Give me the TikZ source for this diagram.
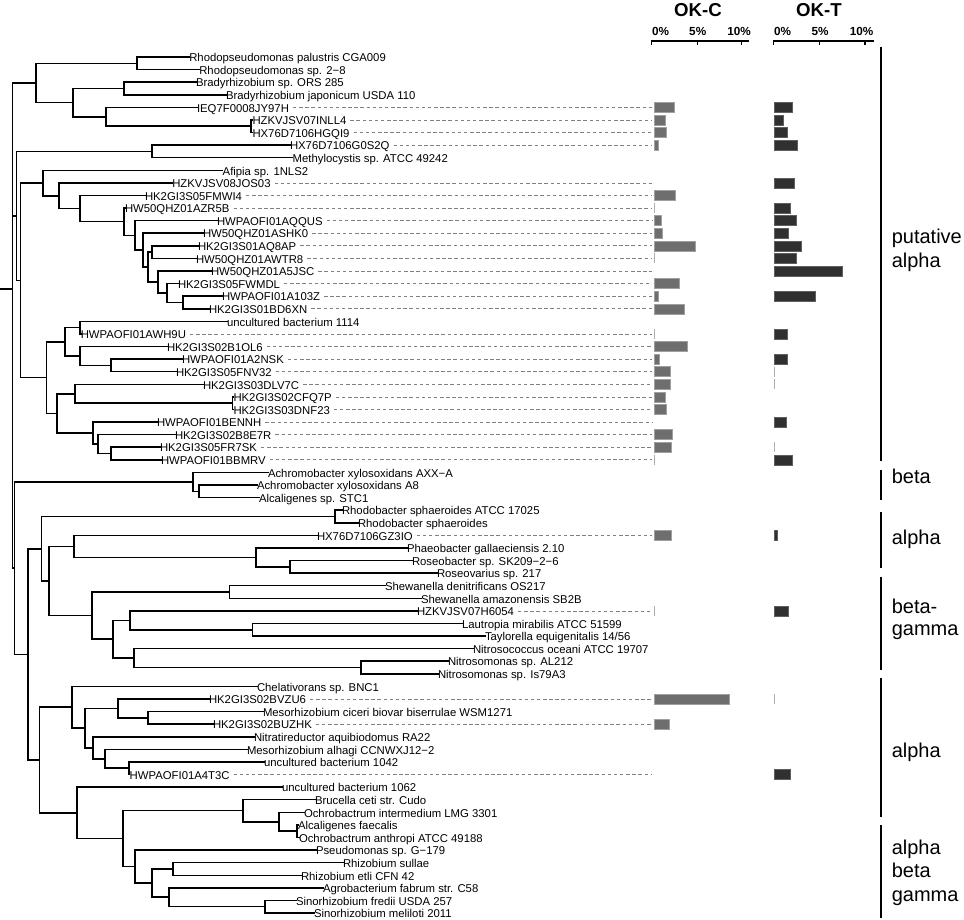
\documentclass[tikz,border=0pt]{standalone}
\usepackage{fontspec}
\setmainfont{Liberation Sans}
\tikzset{
 br/.style={line width=1.15pt, black, line cap=rect},
 leaf/.style={anchor=west, inner sep=0pt, outer sep=0pt, text height=0.716em, text depth=0pt, font=\fontsize{8.5}{10}\selectfont},
 dl/.style={gray, line width=0.5pt, dash pattern=on 2.6pt off 2pt},
 cbar/.style={fill={rgb,255:red,110;green,110;blue,110}, draw={rgb,255:red,160;green,160;blue,160}, line width=0.4pt},
 tbar/.style={fill={rgb,255:red,48;green,48;blue,48}, draw={rgb,255:red,95;green,95;blue,95}, line width=0.4pt},
 zline/.style={draw={rgb,255:red,175;green,175;blue,175}, line width=0.6pt},
 grp/.style={anchor=base west, inner sep=0pt, font=\fontsize{15}{18}\selectfont},
 bracket/.style={line width=1.1pt},
 hdr/.style={anchor=base, inner sep=0pt, font=\bfseries\fontsize{14}{16}\selectfont},
 axlab/.style={anchor=base, inner sep=0pt, font=\bfseries\fontsize{8.8}{10}\selectfont},
 axline/.style={line width=0.9pt},
}
\newcommand\brn[2]{\draw[br] (#1) |- (#2);}
\newcommand\barC[2]{\path[cbar] (654,{#1-5}) rectangle ({654+#2},{#1+5});}
\newcommand\barT[2]{\path[tbar] (774,{#1-5}) rectangle ({774+#2},{#1+5});}
\newcommand\zerC[1]{\draw[zline] (654,{#1-5}) -- (654,{#1+5});}
\newcommand\zerT[1]{\draw[zline] (774,{#1-5}) -- (774,{#1+5});}
\begin{document}
\begin{tikzpicture}[x=0.75pt,y=-0.75pt]
\useasboundingbox (0,0) rectangle (964,920);
% ---------- tips ----------
\coordinate (t1) at (189.3,57.0);
\coordinate (t2) at (199.3,69.6);
\coordinate (t3) at (196,82.2);
\coordinate (t4) at (226,94.8);
\coordinate (t5) at (197,107.4);
\coordinate (t6) at (252.5,119.9);
\coordinate (t7) at (252.5,132.5);
\coordinate (t8) at (290,145.1);
\coordinate (t9) at (292.7,157.7);
\coordinate (t10) at (222.7,170.3);
\coordinate (t11) at (172.3,182.9);
\coordinate (t12) at (145,195.5);
\coordinate (t13) at (125,208.1);
\coordinate (t14) at (217,220.6);
\coordinate (t15) at (203,233.2);
\coordinate (t16) at (198,245.8);
\coordinate (t17) at (196,258.4);
\coordinate (t18) at (211,271.0);
\coordinate (t19) at (178,283.6);
\coordinate (t20) at (222,296.2);
\coordinate (t21) at (209,308.8);
\coordinate (t22) at (227,321.3);
\coordinate (t23) at (80.8,333.9);
\coordinate (t24) at (167,346.5);
\coordinate (t25) at (182,359.1);
\coordinate (t26) at (176,371.7);
\coordinate (t27) at (203,384.3);
\coordinate (t28) at (233.5,396.9);
\coordinate (t29) at (233.5,409.5);
\coordinate (t30) at (157,422.1);
\coordinate (t31) at (175,434.6);
\coordinate (t32) at (160,447.2);
\coordinate (t33) at (161,459.8);
\coordinate (t34) at (268,472.4);
\coordinate (t35) at (257,485.0);
\coordinate (t36) at (259,497.6);
\coordinate (t37) at (342,510.2);
\coordinate (t38) at (358,522.8);
\coordinate (t39) at (317,535.4);
\coordinate (t40) at (407,547.9);
\coordinate (t41) at (412,560.5);
\coordinate (t42) at (437,573.1);
\coordinate (t43) at (385,585.7);
\coordinate (t44) at (421,598.3);
\coordinate (t45) at (417,610.9);
\coordinate (t46) at (462,623.5);
\coordinate (t47) at (485,636.1);
\coordinate (t48) at (473,648.7);
\coordinate (t49) at (448,661.2);
\coordinate (t50) at (438,673.8);
\coordinate (t51) at (257,686.4);
\coordinate (t52) at (209,699.0);
\coordinate (t53) at (263,711.6);
\coordinate (t54) at (213,724.2);
\coordinate (t55) at (254,736.8);
\coordinate (t56) at (247,749.4);
\coordinate (t57) at (264,762.0);
\coordinate (t58) at (129.7,774.5);
\coordinate (t59) at (282,787.1);
\coordinate (t60) at (315,799.7);
\coordinate (t61) at (304,812.3);
\coordinate (t62) at (298,824.9);
\coordinate (t63) at (299,837.5);
\coordinate (t64) at (316,850.1);
\coordinate (t65) at (343,862.7);
\coordinate (t66) at (301,875.3);
\coordinate (t67) at (323,887.8);
\coordinate (t68) at (296,900.4);
\coordinate (t69) at (314,913.0);
% ---------- internal nodes ----------
\coordinate (r0) at (0,289.0);
\coordinate (R) at (12.7,289.0);
\coordinate (T) at (36,83.0);
\coordinate (P1) at (137,63.3);
\coordinate (P2) at (73,102.65);
\coordinate (P3) at (124,88.5);
\coordinate (P4) at (106,116.8);
\coordinate (P5) at (251,126.2);
\coordinate (V2) at (16.7,215.85);
\coordinate (M) at (152,151.4);
\coordinate (V3) at (20.7,280.3);
\coordinate (A0) at (43,183.0);
\coordinate (A1) at (59,195.75);
\coordinate (A2) at (80,208.6);
\coordinate (A3) at (124,221.7);
\coordinate (A4) at (135,235.35);
\coordinate (A5) at (143,250.1);
\coordinate (A6) at (148,267.05);
\coordinate (A7) at (152,252.1);
\coordinate (A8) at (158,282.0);
\coordinate (A9) at (167,293.05);
\coordinate (A10) at (183,302.5);
\coordinate (G2) at (46.7,377.6);
\coordinate (B0) at (65,341.8);
\coordinate (B1) at (80,327.6);
\coordinate (B2) at (80,355.95);
\coordinate (B3) at (111,365.4);
\coordinate (C0) at (57,413.4);
\coordinate (C1) at (75,393.75);
\coordinate (C2) at (232.3,403.2);
\coordinate (D1) at (93,433.1);
\coordinate (D2) at (98,444.05);
\coordinate (D3) at (111,453.5);
\coordinate (Nd) at (14.5,568.1);
\coordinate (Ac) at (193,481.85);
\coordinate (Ac2) at (199,491.3);
\coordinate (Na) at (28,654.4);
\coordinate (Nb) at (41.7,548.75);
\coordinate (Rb) at (335,516.5);
\coordinate (Q0) at (49,581.0);
\coordinate (Hx) at (74,546.4);
\coordinate (Ro1) at (256,557.35);
\coordinate (Ro2) at (290,566.8);
\coordinate (Q1) at (92,615.6);
\coordinate (Sh) at (229.3,592.0);
\coordinate (Q2) at (113,639.2);
\coordinate (Hz) at (130,620.35);
\coordinate (La) at (252.3,629.8);
\coordinate (Ns1) at (134,658.1);
\coordinate (Ns2) at (361,667.5);
\coordinate (Nc) at (39.3,760.1);
\coordinate (Ch) at (72,707.25);
\coordinate (Mz) at (85,728.1);
\coordinate (Ms1) at (118,708.45);
\coordinate (Ms2) at (148,717.9);
\coordinate (Nt) at (93,747.8);
\coordinate (Un1) at (105,758.8);
\coordinate (Un2) at (129,768.25);
\coordinate (U62) at (77,812.9);
\coordinate (K1) at (123,838.65);
\coordinate (Bc) at (243,810.7);
\coordinate (Oc2) at (279,821.75);
\coordinate (Oc3) at (297,831.2);
\coordinate (Ps) at (135,866.6);
\coordinate (K2) at (152,883.1);
\coordinate (Rz) at (173,869.0);
\coordinate (Ag) at (169,897.25);
\coordinate (Sn2) at (265,906.7);
% ---------- branches ----------
\draw[br] (r0) -- (R);
\brn{R}{T}\brn{R}{V2}\brn{R}{Nd}
\brn{T}{P1}\brn{T}{P2}
\brn{P1}{t1}\brn{P1}{t2}
\brn{P2}{P3}\brn{P2}{P4}
\brn{P3}{t3}\brn{P3}{t4}
\brn{P4}{t5}\brn{P4}{P5}
\brn{P5}{t6}\brn{P5}{t7}
\brn{V2}{M}\brn{V2}{V3}
\brn{M}{t8}\brn{M}{t9}
\brn{V3}{A0}\brn{V3}{G2}
\brn{A0}{t10}\brn{A0}{A1}
\brn{A1}{t11}\brn{A1}{A2}
\brn{A2}{t12}\brn{A2}{A3}
\brn{A3}{t13}\brn{A3}{A4}
\brn{A4}{t14}\brn{A4}{A5}
\brn{A5}{t15}\brn{A5}{A6}
\brn{A6}{A7}\brn{A6}{A8}
\brn{A7}{t16}\brn{A7}{t17}
\brn{A8}{t18}\brn{A8}{A9}
\brn{A9}{t19}\brn{A9}{A10}
\brn{A10}{t20}\brn{A10}{t21}
\brn{G2}{B0}\brn{G2}{C0}
\brn{B0}{B1}\brn{B0}{B2}
\brn{B1}{t22}\brn{B1}{t23}
\brn{B2}{t24}\brn{B2}{B3}
\brn{B3}{t25}\brn{B3}{t26}
\brn{C0}{C1}\brn{C0}{D1}
\brn{C1}{t27}\brn{C1}{C2}
\brn{C2}{t28}\brn{C2}{t29}
\brn{D1}{t30}\brn{D1}{D2}
\brn{D2}{t31}\brn{D2}{D3}
\brn{D3}{t32}\brn{D3}{t33}
\brn{Nd}{Ac}\brn{Nd}{Na}
\brn{Ac}{t34}\brn{Ac}{Ac2}
\brn{Ac2}{t35}\brn{Ac2}{t36}
\brn{Na}{Nb}\brn{Na}{Nc}
\brn{Nb}{Rb}\brn{Nb}{Q0}
\brn{Rb}{t37}\brn{Rb}{t38}
\brn{Q0}{Hx}\brn{Q0}{Q1}
\brn{Hx}{t39}\brn{Hx}{Ro1}
\brn{Ro1}{t40}\brn{Ro1}{Ro2}
\brn{Ro2}{t41}\brn{Ro2}{t42}
\brn{Q1}{Sh}\brn{Q1}{Q2}
\brn{Sh}{t43}\brn{Sh}{t44}
\brn{Q2}{Hz}\brn{Q2}{Ns1}
\brn{Hz}{t45}\brn{Hz}{La}
\brn{La}{t46}\brn{La}{t47}
\brn{Ns1}{t48}\brn{Ns1}{Ns2}
\brn{Ns2}{t49}\brn{Ns2}{t50}
\brn{Nc}{Ch}\brn{Nc}{U62}
\brn{Ch}{t51}\brn{Ch}{Mz}
\brn{Mz}{Ms1}\brn{Mz}{Nt}
\brn{Ms1}{t52}\brn{Ms1}{Ms2}
\brn{Ms2}{t53}\brn{Ms2}{t54}
\brn{Nt}{t55}\brn{Nt}{Un1}
\brn{Un1}{t56}\brn{Un1}{Un2}
\brn{Un2}{t57}\brn{Un2}{t58}
\brn{U62}{t59}\brn{U62}{K1}
\brn{K1}{Bc}\brn{K1}{Ps}
\brn{Bc}{t60}\brn{Bc}{Oc2}
\brn{Oc2}{t61}\brn{Oc2}{Oc3}
\brn{Oc3}{t62}\brn{Oc3}{t63}
\brn{Ps}{t64}\brn{Ps}{K2}
\brn{K2}{Rz}\brn{K2}{Ag}
\brn{Rz}{t65}\brn{Rz}{t66}
\brn{Ag}{t67}\brn{Ag}{Sn2}
\brn{Sn2}{t68}\brn{Sn2}{t69}
% ---------- labels ----------
\node[leaf] (l1) at (t1) {Rhodopseudomonas palustris CGA009};
\node[leaf] (l2) at (t2) {Rhodopseudomonas sp. 2−8};
\node[leaf] (l3) at (t3) {Bradyrhizobium sp. ORS 285};
\node[leaf] (l4) at (t4) {Bradyrhizobium japonicum USDA 110};
\node[leaf] (l5) at (t5) {IEQ7F0008JY97H};
\node[leaf] (l6) at (t6) {HZKVJSV07INLL4};
\node[leaf] (l7) at (t7) {HX76D7106HGQI9};
\node[leaf] (l8) at (t8) {HX76D7106G0S2Q};
\node[leaf] (l9) at (t9) {Methylocystis sp. ATCC 49242};
\node[leaf] (l10) at (t10) {Afipia sp. 1NLS2};
\node[leaf] (l11) at (t11) {HZKVJSV08JOS03};
\node[leaf] (l12) at (t12) {HK2GI3S05FMWI4};
\node[leaf] (l13) at (t13) {HW50QHZ01AZR5B};
\node[leaf] (l14) at (t14) {HWPAOFI01AQQUS};
\node[leaf] (l15) at (t15) {HW50QHZ01ASHK0};
\node[leaf] (l16) at (t16) {HK2GI3S01AQ8AP};
\node[leaf] (l17) at (t17) {HW50QHZ01AWTR8};
\node[leaf] (l18) at (t18) {HW50QHZ01A5JSC};
\node[leaf] (l19) at (t19) {HK2GI3S05FWMDL};
\node[leaf] (l20) at (t20) {HWPAOFI01A103Z};
\node[leaf] (l21) at (t21) {HK2GI3S01BD6XN};
\node[leaf] (l22) at (t22) {uncultured bacterium 1114};
\node[leaf] (l23) at (t23) {HWPAOFI01AWH9U};
\node[leaf] (l24) at (t24) {HK2GI3S02B1OL6};
\node[leaf] (l25) at (t25) {HWPAOFI01A2NSK};
\node[leaf] (l26) at (t26) {HK2GI3S05FNV32};
\node[leaf] (l27) at (t27) {HK2GI3S03DLV7C};
\node[leaf] (l28) at (t28) {HK2GI3S02CFQ7P};
\node[leaf] (l29) at (t29) {HK2GI3S03DNF23};
\node[leaf] (l30) at (t30) {HWPAOFI01BENNH};
\node[leaf] (l31) at (t31) {HK2GI3S02B8E7R};
\node[leaf] (l32) at (t32) {HK2GI3S05FR7SK};
\node[leaf] (l33) at (t33) {HWPAOFI01BBMRV};
\node[leaf] (l34) at (t34) {Achromobacter xylosoxidans AXX−A};
\node[leaf] (l35) at (t35) {Achromobacter xylosoxidans A8};
\node[leaf] (l36) at (t36) {Alcaligenes sp. STC1};
\node[leaf] (l37) at (t37) {Rhodobacter sphaeroides ATCC 17025};
\node[leaf] (l38) at (t38) {Rhodobacter sphaeroides};
\node[leaf] (l39) at (t39) {HX76D7106GZ3IO};
\node[leaf] (l40) at (t40) {Phaeobacter gallaeciensis 2.10};
\node[leaf] (l41) at (t41) {Roseobacter sp. SK209−2−6};
\node[leaf] (l42) at (t42) {Roseovarius sp. 217};
\node[leaf] (l43) at (t43) {Shewanella denitrificans OS217};
\node[leaf] (l44) at (t44) {Shewanella amazonensis SB2B};
\node[leaf] (l45) at (t45) {HZKVJSV07H6054};
\node[leaf] (l46) at (t46) {Lautropia mirabilis ATCC 51599};
\node[leaf] (l47) at (t47) {Taylorella equigenitalis 14/56};
\node[leaf] (l48) at (t48) {Nitrosococcus oceani ATCC 19707};
\node[leaf] (l49) at (t49) {Nitrosomonas sp. AL212};
\node[leaf] (l50) at (t50) {Nitrosomonas sp. Is79A3};
\node[leaf] (l51) at (t51) {Chelativorans sp. BNC1};
\node[leaf] (l52) at (t52) {HK2GI3S02BVZU6};
\node[leaf] (l53) at (t53) {Mesorhizobium ciceri biovar biserrulae WSM1271};
\node[leaf] (l54) at (t54) {HK2GI3S02BUZHK};
\node[leaf] (l55) at (t55) {Nitratireductor aquibiodomus RA22};
\node[leaf] (l56) at (t56) {Mesorhizobium alhagi CCNWXJ12−2};
\node[leaf] (l57) at (t57) {uncultured bacterium 1042};
\node[leaf] (l58) at (t58) {HWPAOFI01A4T3C};
\node[leaf] (l59) at (t59) {uncultured bacterium 1062};
\node[leaf] (l60) at (t60) {Brucella ceti str. Cudo};
\node[leaf] (l61) at (t61) {Ochrobactrum intermedium LMG 3301};
\node[leaf] (l62) at (t62) {Alcaligenes faecalis};
\node[leaf] (l63) at (t63) {Ochrobactrum anthropi ATCC 49188};
\node[leaf] (l64) at (t64) {Pseudomonas sp. G−179};
\node[leaf] (l65) at (t65) {Rhizobium sullae};
\node[leaf] (l66) at (t66) {Rhizobium etli CFN 42};
\node[leaf] (l67) at (t67) {Agrobacterium fabrum str. C58};
\node[leaf] (l68) at (t68) {Sinorhizobium fredii USDA 257};
\node[leaf] (l69) at (t69) {Sinorhizobium meliloti 2011};
% ---------- dashed leaders ----------
\coordinate (cx) at (652,0);
\foreach \i in {5,6,7,8,11,12,13,14,15,16,17,18,19,20,21,23,24,25,26,27,28,29,30,31,32,33,39,45,52,54,58}
  \draw[dl] ([xshift=3pt]l\i.east) -- (l\i.east -| cx);
% ---------- headers and axes ----------
\node[hdr] (hC) at (698,16.7) {OK-C};
\node[hdr] (hT) at (819,16.7) {OK-T};
\node[axlab] (c0) at (660.5,36) {0\%};
\node[axlab] (c5) at (697.7,36) {5\%};
\node[axlab] (c10) at (739,36) {10\%};
\node[axlab] (d0) at (782.5,36) {0\%};
\node[axlab] (d5) at (820,36) {5\%};
\node[axlab] (d10) at (861.5,36) {10\%};
\draw[axline] (651.7,45) -- (651.7,41) -- (749,41);
\draw[axline] (697.7,41) -- (697.7,45);
\draw[axline] (741.7,41) -- (741.7,45);
\draw[axline] (773.3,45) -- (773.3,41) -- (874,41);
\draw[axline] (819.3,41) -- (819.3,45);
\draw[axline] (865,41) -- (865,45);
% ---------- OK-C bars ----------
\barC{107.4}{20}\barC{119.9}{11}\barC{132.5}{12.3}\barC{145.1}{4.7}
\barC{195.5}{21}\zerC{208.1}\barC{220.6}{7.3}\barC{233.2}{8}
\barC{245.8}{41.7}\zerC{258.4}\barC{283.6}{25.3}\barC{296.2}{4.3}
\barC{308.8}{30}\zerC{333.9}\barC{346.5}{33.3}\barC{359.1}{5.3}
\barC{371.7}{16.3}\barC{384.3}{16.7}\barC{396.9}{11.7}\barC{409.5}{12.7}
\barC{434.6}{18}\barC{447.2}{17.7}\zerC{459.8}\barC{535.4}{17.3}
\zerC{610.9}\barC{699.0}{75}\barC{724.2}{15.3}
% ---------- OK-T bars ----------
\barT{107.4}{18.7}\barT{119.9}{9.3}\barT{132.5}{13.3}\barT{145.1}{23}
\barT{182.9}{20.3}\barT{208.1}{16.3}\barT{220.6}{22}\barT{233.2}{14.7}
\barT{245.8}{27.3}\barT{258.4}{22.3}\barT{271.0}{68.3}\barT{296.2}{41.3}
\barT{333.9}{13}\barT{359.1}{13.3}\zerT{371.7}\zerT{384.3}
\barT{422.1}{12.7}\zerT{447.2}\barT{459.8}{18.7}\barT{535.4}{3.3}
\barT{610.9}{14.3}\zerT{699.0}\barT{774.5}{16}
% ---------- group brackets ----------
\coordinate (g1a) at (881,47); \coordinate (g1b) at (881,461);
\coordinate (g2a) at (881,470); \coordinate (g2b) at (881,500);
\coordinate (g3a) at (881,511.7); \coordinate (g3b) at (881,568.3);
\coordinate (g4a) at (881,576.7); \coordinate (g4b) at (881,670);
\coordinate (g5a) at (881,678.3); \coordinate (g5b) at (881,816.7);
\coordinate (g6a) at (881,825); \coordinate (g6b) at (881,918);
\draw[bracket] (g1a) -- (g1b);
\draw[bracket] (g2a) -- (g2b);
\draw[bracket] (g3a) -- (g3b);
\draw[bracket] (g4a) -- (g4b);
\draw[bracket] (g5a) -- (g5b);
\draw[bracket] (g6a) -- (g6b);
\node[grp] (n1a) at (891.5,243.3) {putative};
\node[grp] (n1b) at (891.5,267.3) {alpha};
\node[grp] (n2) at (891.5,483.3) {beta};
\node[grp] (n3) at (891.5,544.3) {alpha};
\node[grp] (n4a) at (891.5,613.3) {beta-};
\node[grp] (n4b) at (891.5,635) {gamma};
\node[grp] (n5) at (891.5,757.3) {alpha};
\node[grp] (n6a) at (891.5,854) {alpha};
\node[grp] (n6b) at (891.5,877.3) {beta};
\node[grp] (n6c) at (891.5,901.7) {gamma};
\end{tikzpicture}
\end{document}
